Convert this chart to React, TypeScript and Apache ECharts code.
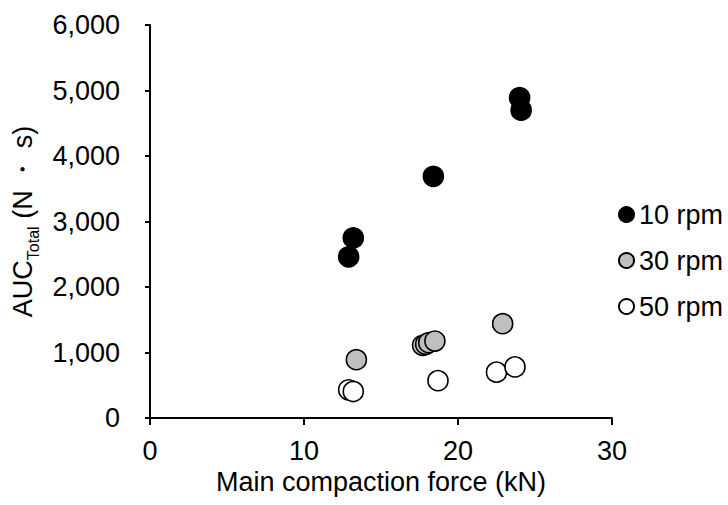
import React, { useEffect, useRef } from "react";
import * as echarts from "echarts";

const seriesNames = ["10 rpm", "30 rpm", "50 rpm"];
const rpm10: number[][] = [[12.9, 2460], [13.2, 2750], [18.4, 3690], [24.0, 4890], [24.1, 4700]];
const rpm30: number[][] = [[13.4, 890], [17.7, 1110], [17.9, 1125], [18.1, 1150], [18.5, 1175], [22.9, 1440]];
const rpm50: number[][] = [[12.9, 430], [13.2, 405], [18.7, 570], [22.5, 700], [23.7, 780]];
const fills = ["#000000", "#bfbfbf", "#ffffff"];

const FONT = "Liberation Sans, Arial, sans-serif";
const FS = 27;

export default function App() {
  const ref = useRef<HTMLDivElement>(null);
  useEffect(() => {
    const chart = echarts.init(ref.current!, null, { renderer: "svg" });
    const datas = [rpm10, rpm30, rpm50];
    chart.setOption({
      animation: false,
      backgroundColor: "#ffffff",
      textStyle: { fontFamily: FONT },
      grid: { left: 150, right: 116, top: 25, bottom: 87 },
      legend: {
        orient: "vertical",
        left: 613,
        top: 196,
        itemGap: 19,
        itemWidth: 15,
        itemHeight: 15,
        icon: "circle",
        textStyle: { fontSize: FS, color: "#000", fontFamily: FONT },
        data: seriesNames,
      },
      xAxis: {
        type: "value",
        min: 0,
        max: 30,
        interval: 10,
        name: "Main compaction force (kN)",
        nameLocation: "middle",
        nameGap: 47,
        nameTextStyle: { fontSize: FS, color: "#000", fontFamily: FONT },
        axisLine: { show: true, onZero: false, lineStyle: { color: "#000", width: 2 } },
        axisTick: { show: true, length: 7, lineStyle: { color: "#000", width: 2 } },
        axisLabel: { fontSize: FS, color: "#000", margin: 19, fontFamily: FONT },
        splitLine: { show: false },
      },
      yAxis: {
        type: "value",
        min: 0,
        max: 6000,
        interval: 1000,
        name: "{m|AUC}{s|Total}{m| (N ・ s)}",
        nameLocation: "middle",
        nameGap: 107,
        nameRotate: 90,
        nameTextStyle: {
          fontSize: FS,
          color: "#000",
          fontFamily: FONT,
          rich: {
            m: { fontSize: FS, color: "#000", fontFamily: FONT, verticalAlign: "bottom", lineHeight: 30 },
            s: { fontSize: 16, color: "#000", fontFamily: FONT, verticalAlign: "bottom", lineHeight: 30, padding: [0, 0, -5, 0] },
          },
        },
        axisLine: { show: true, onZero: false, lineStyle: { color: "#000", width: 2 } },
        axisTick: { show: true, length: 5, lineStyle: { color: "#000", width: 2 } },
        axisLabel: {
          fontSize: FS,
          color: "#000",
          margin: 30,
          fontFamily: FONT,
          formatter: (v: number) => v.toLocaleString("en-US"),
        },
        splitLine: { show: false },
      },
      series: seriesNames.map((name, i) => ({
        name,
        type: "scatter",
        data: datas[i],
        symbol: "circle",
        symbolSize: 20,
        itemStyle: { color: fills[i], borderColor: "#000", borderWidth: 1.6, opacity: 1 },
      })),
    });
    return () => chart.dispose();
  }, []);
  return <div ref={ref} style={{ width: 728, height: 505, position: "absolute", left: 0, top: 0 }} />;
}
